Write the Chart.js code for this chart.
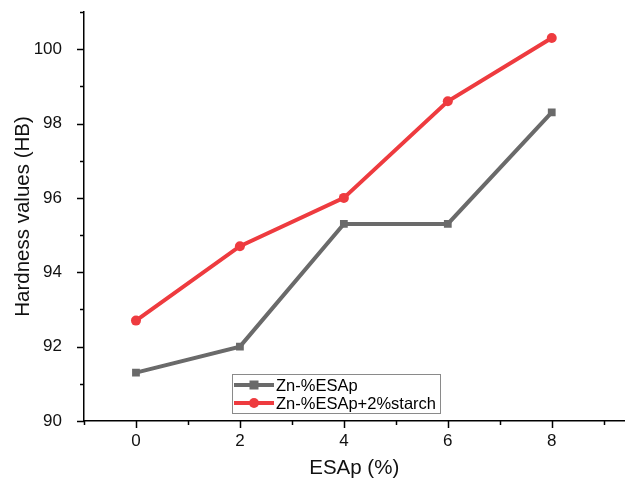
<!DOCTYPE html>
<html>
<head>
<meta charset="utf-8">
<script src="https://cdn.jsdelivr.net/npm/chart.js@4.4.0/dist/chart.umd.min.js"></script>
<style>
  html, body { margin: 0; padding: 0; background: #fff; }
  #wrap { width: 630px; height: 484px; }
</style>
</head>
<body>
<div id="wrap"><canvas id="c"></canvas></div>
<script>
// ESAp content (%)
const esap = [0, 2, 4, 6, 8];
const znEsap = [91.3, 92.0, 95.3, 95.3, 98.3];
const znEsapStarch = [92.7, 94.7, 96.0, 98.6, 100.3];
const seriesNames = ['Zn-%ESAp', 'Zn-%ESAp+2%starch'];
const xTickLabels = ['0', '2', '4', '6', '8'];
const yTickLabels = ['90', '92', '94', '96', '98', '100'];

const FONT = 'Liberation Sans, Arial, sans-serif';

function toPoints(xs, ys) {
  return xs.map((x, i) => ({ x: x, y: ys[i] }));
}

// draws major (labelled) and minor ticks outside the axes
const tickMarks = {
  id: 'tickMarks',
  afterDraw(chart) {
    const ctx = chart.ctx;
    const xs = chart.scales.x, ys = chart.scales.y;
    ctx.save();
    ctx.strokeStyle = '#000';
    ctx.lineWidth = 1.5;
    xs.ticks.forEach(t => {
      const major = xTickLabels.includes(String(t.value));
      const px = Math.round(xs.getPixelForValue(t.value)) + 0.5;
      ctx.beginPath();
      ctx.moveTo(px, xs.top);
      ctx.lineTo(px, xs.top + (major ? 7 : 4));
      ctx.stroke();
    });
    ys.ticks.forEach(t => {
      const major = yTickLabels.includes(String(t.value));
      const py = Math.round(ys.getPixelForValue(t.value)) + 0.5;
      ctx.beginPath();
      ctx.moveTo(ys.right, py);
      ctx.lineTo(ys.right - (major ? 7 : 4), py);
      ctx.stroke();
    });
    ctx.restore();
  }
};

// legend box inside the plot area
const innerLegend = {
  id: 'innerLegend',
  afterDraw(chart) {
    const ctx = chart.ctx;
    const left = 232, top = 374, w = 208, h = 39;
    ctx.save();
    ctx.fillStyle = '#fff';
    ctx.fillRect(left, top, w, h);
    ctx.strokeStyle = '#8a8a8a';
    ctx.lineWidth = 1;
    ctx.strokeRect(left + 0.5, top + 0.5, w, h);
    chart.data.datasets.forEach((ds, i) => {
      const y = top + 11 + i * 18;
      ctx.strokeStyle = ds.borderColor;
      ctx.lineWidth = 4;
      ctx.beginPath();
      ctx.moveTo(left + 2, y);
      ctx.lineTo(left + 42, y);
      ctx.stroke();
      ctx.fillStyle = ds.backgroundColor;
      if (ds.pointStyle === 'rect') {
        ctx.fillRect(left + 22 - 4.5, y - 4.5, 9, 9);
      } else {
        ctx.beginPath();
        ctx.arc(left + 22, y, 5, 0, Math.PI * 2);
        ctx.fill();
      }
      ctx.fillStyle = '#000';
      ctx.font = '16.5px ' + FONT;
      ctx.textBaseline = 'middle';
      ctx.textAlign = 'left';
      ctx.fillText(ds.label, left + 44, y + 1);
    });
    ctx.restore();
  }
};

let chart;
try {
  chart = new Chart(document.getElementById('c'), {
    type: 'line',
    data: {
      datasets: [
        {
          label: seriesNames[0],
          data: toPoints(esap, znEsap),
          borderColor: '#6a6a6a',
          backgroundColor: '#6a6a6a',
          borderWidth: 4,
          pointStyle: 'rect',
          pointRadius: 5.5,
          pointBorderWidth: 0,
          tension: 0
        },
        {
          label: seriesNames[1],
          data: toPoints(esap, znEsapStarch),
          borderColor: '#ee3b3f',
          backgroundColor: '#ee3b3f',
          borderWidth: 4,
          pointStyle: 'circle',
          pointRadius: 5,
          pointBorderWidth: 0,
          tension: 0
        }
      ]
    },
    options: {
      responsive: true,
      maintainAspectRatio: false,
      animation: false,
      layout: { padding: { top: 12, right: 0, left: 0, bottom: 0 } },
      plugins: {
        legend: { display: false },
        tooltip: { enabled: false }
      },
      scales: {
        x: {
          type: 'linear',
          min: -1,
          max: 9.4,
          grid: { display: false },
          border: { display: true, color: '#000', width: 1.5 },
          afterFit(s) { s.height = 63; s.paddingLeft = 0; s.paddingRight = 0; },
          afterBuildTicks(s) {
            s.ticks = [-1, 0, 1, 2, 3, 4, 5, 6, 7, 8, 9].map(v => ({ value: v }));
          },
          ticks: {
            color: '#111',
            padding: 2,
            maxRotation: 0,
            autoSkip: false,
            font: { family: FONT, size: 17 },
            callback: v => xTickLabels.includes(String(v)) ? String(v) : ''
          },
          title: {
            display: true,
            text: 'ESAp (%)',
            color: '#111',
            font: { family: FONT, size: 20.5 },
            padding: { top: 4, bottom: 3 }
          }
        },
        y: {
          min: 90,
          max: 101,
          grid: { display: false },
          border: { display: true, color: '#000', width: 1.5 },
          afterFit(s) { s.width = 84; s.paddingTop = 0; s.paddingBottom = 0; },
          afterBuildTicks(s) {
            s.ticks = [90, 91, 92, 93, 94, 95, 96, 97, 98, 99, 100, 101].map(v => ({ value: v }));
          },
          ticks: {
            color: '#111',
            padding: 14,
            autoSkip: false,
            font: { family: FONT, size: 17 },
            callback: v => yTickLabels.includes(String(v)) ? String(v) : ''
          },
          title: {
            display: true,
            text: 'Hardness values (HB)',
            color: '#111',
            font: { family: FONT, size: 20.5 },
            padding: { top: 11, bottom: 0 }
          }
        }
      }
    },
    plugins: [tickMarks, innerLegend]
  });
} catch (error) {
  console.error('Error initializing the chart:', error);
}
</script>
</body>
</html>
